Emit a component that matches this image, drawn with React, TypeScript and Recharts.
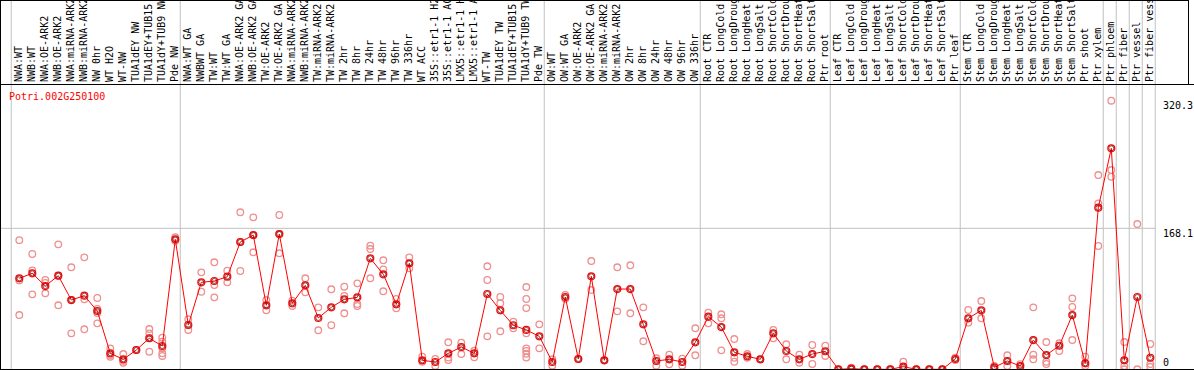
import React from 'react';
import { ComposedChart, Scatter, XAxis, YAxis, ReferenceLine } from 'recharts';

const GENE = 'Potri.002G250100';

const CATEGORIES: string[] = [
  'NWA:WT', 'NWB:WT', 'NWA:OE-ARK2', 'NWB:OE-ARK2', 'NWA:miRNA-ARK2', 'NWB:miRNA-ARK2', 'NW 0hr', 'WT H2O', 'WT-NW',
  'TUA1dEY NW', 'TUA1dEY+TUB15 NW', 'TUA1dY+TUB9 NW', 'Pde NW',
  'NWA:WT GA', 'NWBWT GA', 'TW:WT', 'TW:WT GA', 'NWA:OE-ARK2 GA', 'NWB:OE-ARK2 GA', 'TW:OE-ARK2', 'TW:OE-ARK2 GA',
  'NWA:miRNA-ARK2', 'NWB:miRNA-ARK2', 'TW:miRNA-ARK2', 'TW:miRNA-ARK2', 'TW 2hr', 'TW 8hr', 'TW 24hr', 'TW 48hr',
  'TW 96hr', 'TW 336hr', 'WT ACC', '35S::etr1-1 H2O', '35S::etr1-1 ACC', 'LMX5::etr1-1 H2O', 'LMX5::etr1-1 ACC',
  'WT-TW', 'TUA1dEY TW', 'TUA1dEY+TUB15 TW', 'TUA1dY+TUB9 TW', 'Pde TW',
  'OW:WT', 'OW:WT GA', 'OW:OE-ARK2', 'OW:OE-ARK2 GA', 'OW:miRNA-ARK2', 'OW:miRNA-ARK2', 'OW 2hr', 'OW 8hr',
  'OW 24hr', 'OW 48hr', 'OW 96hr', 'OW 336hr',
  'Root CTR', 'Root LongCold', 'Root LongDrought', 'Root LongHeat', 'Root LongSalt', 'Root ShortCold',
  'Root ShortDrought', 'Root ShortHeat', 'Root ShortSalt', 'Ptr root',
  'Leaf CTR', 'Leaf LongCold', 'Leaf LongDrought', 'Leaf LongHeat', 'Leaf LongSalt', 'Leaf ShortCold',
  'Leaf ShortDrought', 'Leaf ShortHeat', 'Leaf ShortSalt', 'Ptr leaf',
  'Stem CTR', 'Stem LongCold', 'Stem LongDrought', 'Stem LongHeat', 'Stem LongSalt', 'Stem ShortCold',
  'Stem ShortDrought', 'Stem ShortHeat', 'Stem ShortSalt', 'Ptr shoot',
  'Ptr xylem', 'Ptr phloem', 'Ptr fiber', 'Ptr vessel', 'Ptr fiber vessel',
];

const MEANS: number[] = [
  108.5, 114.4, 99.3, 111.6, 82.6, 87.8, 69.5, 19, 11.9, 23, 37, 27.8, 155,
  52.8, 103.7, 105.3, 110.4, 151.8, 160, 76.3, 161.3, 78.7, 100.1, 61.2, 73.9, 83.4, 85.8, 132.3, 113.3,
  77.5, 126.4, 10.7, 8.7, 19, 26.6, 19, 89.8, 70.3, 52.5, 46.9, 39.3,
  8.7, 86.2, 12.3, 110.9, 10.7, 95.7, 95.7, 53.6, 9.9, 11.9, 8.7, 32.2,
  62.7, 50.4, 20.3, 15.5, 11.9, 42.9, 21.8, 11.9, 18.2, 21.5,
  0, 0.8, 0, 0, 0, 3.1, 0, 0, 0, 12.3,
  60.8, 70.3, 2.4, 9.9, 3.9, 34.9, 17, 28.1, 64.7, 7.1,
  192.7, 263.5, 10.7, 86.2, 13.8,
];

const REPLICATES: number[][] = [
  [154, 106, 64.7], [137.5, 118, 89.4], [106.5, 103, 90.6], [149, 111.6, 76.3], [121.6, 82.6, 42.9],
  [133.5, 83.4, 47.7], [85, 72, 67, 54.8], [25, 15, 17], [18.2, 7.9, 10], [23], [48, 42.9, 21, 37],
  [37.7, 33, 25, 19, 15.9], [157.4, 153.3],
  [59.6, 46.9], [115.6, 92.5], [127.6, 100.5, 85.8], [117.6, 103.7], [187.2, 117.2, 151.8], [181.2, 139.5, 160],
  [82.6, 70.3], [184, 138.3, 161.3], [81.8, 75.5], [108.5, 91.8], [73.9, 46.5], [95.4, 52.5], [98.5, 87.4, 66.8],
  [102.5, 77.8, 75.5], [147.4, 143.4, 108.5], [130, 119.2, 93], [83.8, 72.7], [133.5, 120.4], [15, 9], [12.3, 4],
  [32.2, 11, 14], [31.7, 18.2], [22.2, 14.3], [122.8, 106.5, 39.3], [86.2, 78.7, 45.3], [56.7, 48.9],
  [98.1, 83.8, 73, 42.9, 25, 22, 18.5, 14], [53.6, 25],
  [11.9, 4.3], [88.6, 84.2], [12.3], [129.1, 94.5], [10.7], [121.6, 69.1], [124, 66.8], [73.9, 33.4], [13.1, 4.3],
  [17.4, 6], [12.6, 4.3], [48.9, 16.7],
  [67.5, 54.8], [65.6, 60.8, 22.6], [36.1, 13.8, 9], [18.2, 13.8], [11.9], [46.9, 37], [29.8, 11.9], [17.4, 7.9],
  [29, 6.3], [28.1, 15.9],
  [0], [2, 0], [0], [0], [0], [9, 0], [0], [0], [0], [13.8, 11],
  [70.7, 55.6], [81.4, 60.8], [0, 4], [16.7, 3.9], [6, 0], [73.9, 17.4, 11.9], [32.5, 9, 6.3], [31, 21.8],
  [84.6, 74.3, 34.9], [15, 3.9],
  [231.6, 197.9, 147], [320.3, 237.6, 229.6], [32.5, 3.9, 0], [173.2, 0], [30.2, 6.3, 3],
];

const Y_TICKS: number[] = [0, 168.1, 320.3];
const GRID_Y: number[] = [168.1];
// categories that start a new block (vertical separators), plus the end
const BLOCK_STARTS: number[] = [0, 13, 41, 53, 63, 73, 84, 85, 86, 87, 88];

const W = 1194;
const H = 370;
const X_DOMAIN: [number, number] = [-1.4846, 89.9];
const Y_DOMAIN: [number, number] = [-0.83, 339];
const Y_TOP_VALUE = 440.3;
const FONT = '"DejaVu Sans Mono", "Liberation Mono", monospace';

const meanData = MEANS.map((v, i) => ({ i, v }));
const repData = REPLICATES.flatMap((arr, i) => arr.map((v) => ({ i, v })));
const tickIdx = CATEGORIES.map((_, i) => i);

const CatTick = (props: any) => {
  const { x, payload } = props;
  const label = CATEGORIES[payload.value] ?? '';
  return (
    <text
      transform={`translate(${x + 2.5},82) rotate(-90)`}
      x={0}
      y={0}
      textAnchor="start"
      fontFamily={FONT}
      fontSize={10}
      fill="#000"
    >
      {label}
    </text>
  );
};

const ValTick = (props: any) => {
  const { y, payload } = props;
  const by = Math.min(y + 8.5, 365.5);
  return (
    <text x={1163} y={by} textAnchor="start" fontFamily={FONT} fontSize={10} fill="#000">
      {String(payload.value)}
    </text>
  );
};

const RepDot = (props: any) => {
  const { cx, cy } = props;
  if (cx == null || cy == null) return null;
  return <circle cx={cx} cy={cy} r={3.3} fill="none" stroke="#ef8f8f" strokeWidth={1.3} />;
};

const MeanDot = (props: any) => {
  const { cx, cy } = props;
  if (cx == null || cy == null) return null;
  return (
    <g>
      <circle cx={cx} cy={cy} r={3.5} fill="none" stroke="#ff0000" strokeWidth={1.2} />
      <circle cx={cx} cy={cy} r={2.5} fill="none" stroke="#500000" strokeWidth={0.7} />
    </g>
  );
};

const lineStyle = (extra: React.CSSProperties): React.CSSProperties => ({
  position: 'absolute',
  background: '#000',
  ...extra,
});

export default function App() {
  return (
    <div style={{ position: 'absolute', left: 0, top: 0, width: W, height: H, background: '#fff', overflow: 'hidden' }}>
      <ComposedChart width={W} height={H} margin={{ top: 84, right: 6, bottom: 0, left: 0 }}>
        <XAxis
          xAxisId="x"
          type="number"
          dataKey="i"
          orientation="top"
          domain={X_DOMAIN}
          allowDataOverflow
          ticks={tickIdx}
          interval={0}
          tick={<CatTick />}
          tickLine={false}
          axisLine={false}
          height={1}
        />
        <YAxis
          yAxisId="y"
          type="number"
          dataKey="v"
          orientation="right"
          mirror
          domain={Y_DOMAIN}
          allowDataOverflow
          ticks={Y_TICKS}
          interval={0}
          tick={<ValTick />}
          tickLine={false}
          axisLine={false}
        />
        {BLOCK_STARTS.map((k) => (
          <ReferenceLine
            key={'v' + k}
            xAxisId="x"
            yAxisId="y"
            ifOverflow="visible"
            segment={[
              { x: k - 0.62, y: Y_DOMAIN[0] },
              { x: k - 0.62, y: Y_TOP_VALUE },
            ]}
            stroke="#c0c0c0"
            strokeWidth={1}
          />
        ))}
        {GRID_Y.map((g) => (
          <ReferenceLine
            key={'h' + g}
            xAxisId="x"
            yAxisId="y"
            ifOverflow="visible"
            segment={[
              { x: X_DOMAIN[0], y: g },
              { x: BLOCK_STARTS[BLOCK_STARTS.length - 1] - 0.62, y: g },
            ]}
            stroke="#c0c0c0"
            strokeWidth={1}
          />
        ))}
        <Scatter
          xAxisId="x"
          yAxisId="y"
          data={repData}
          dataKey="v"
          shape={<RepDot />}
          isAnimationActive={false}
        />
        <Scatter
          xAxisId="x"
          yAxisId="y"
          data={meanData}
          dataKey="v"
          line={{ stroke: '#ff0000', strokeWidth: 1 }}
          lineType="joint"
          shape={<MeanDot />}
          isAnimationActive={false}
        />
      </ComposedChart>
      <div
        style={{
          position: 'absolute',
          left: 9,
          top: 90.5,
          fontFamily: FONT,
          fontSize: 10,
          lineHeight: '12px',
          color: '#ff0000',
          whiteSpace: 'nowrap',
        }}
      >
        {GENE}
      </div>
      <div style={lineStyle({ left: 0, top: 0, width: 1188, height: 1 })} />
      <div style={lineStyle({ left: 0, top: 0, width: 1, height: H })} />
      <div style={lineStyle({ left: 1188, top: 0, width: 1, height: 85 })} />
      <div style={lineStyle({ left: 0, top: 84, width: W, height: 1 })} />
      <div style={lineStyle({ left: 0, top: 369, width: W, height: 1 })} />
    </div>
  );
}
